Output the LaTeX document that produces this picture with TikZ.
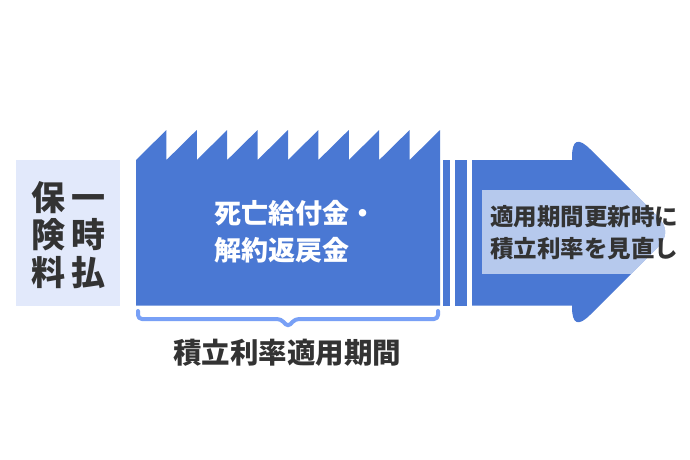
\documentclass[tikz,border=0pt]{standalone}
\usepackage{fontspec}
\setmainfont{Noto Sans CJK JP}
\definecolor{mainblue}{HTML}{4A78D3}
\definecolor{paleblue}{HTML}{E2E9FB}
\definecolor{bracecol}{HTML}{78A0F6}
\definecolor{darktext}{HTML}{333333}
\tikzset{
  txt/.style={inner sep=0pt, outer sep=0pt},
  lefttxt/.style={txt, anchor=base, text=darktext, font=\fontsize{34pt}{37.5pt}\selectfont\bfseries},
  maintxt/.style={txt, anchor=base west, text=white, font=\fontsize{27pt}{37pt}\selectfont\bfseries},
  overtxt/.style={txt, anchor=base west, text=darktext, font=\fontsize{23.5pt}{32pt}\selectfont\bfseries},
  bottxt/.style={txt, anchor=base, text=darktext, font=\fontsize{28.5pt}{32pt}\selectfont\bfseries},
}
\def\arrowpath{(472,160) -- (572,160) -- (572,157) .. controls (572,139.67) and (578.12,137.12) .. (590.38,149.38) -- (657.44,216.44) .. controls (667.81,226.81) and (667.81,237.19) .. (657.44,247.56) -- (590.38,314.62) .. controls (578.12,326.88) and (572,324.33) .. (572,307) -- (572,305.5) -- (472,305.5) -- cycle}
\begin{document}
\begin{tikzpicture}[x=1pt,y=-1pt]
\useasboundingbox (0,0) rectangle (690,460);
\fill[white] (0,0) rectangle (690,460);
% left box
\fill[paleblue] (16,160) rectangle (120,305.5);
\node[lefttxt] (l1) at (48.3,210.9) {保};
\node[lefttxt] (l2) at (48.3,247.9) {険};
\node[lefttxt] (l3) at (48.3,285.9) {料};
\node[lefttxt] (r1) at (88.3,210.9) {一};
\node[lefttxt] (r2) at (88.3,247.9) {時};
\node[lefttxt] (r3) at (88.3,285.9) {払};
% main saw-tooth box
\fill[mainblue] (136,305.5) -- (136,160)
  \foreach \i in {1,...,9} { -- ({136+30.4*\i},130) -- ({136+30.4*\i},160) }
  -- (440,130) -- (440,305.5) -- cycle;
\node[maintxt] (m1) at (214.8,223.3) {死亡給付金・};
\node[maintxt] (m2) at (214.8,260.3) {解約返戻金};
% stripes
\fill[mainblue] (443,160) rectangle (450,305.5);
\fill[mainblue] (455,160) rectangle (467,305.5);
% arrow
\fill[mainblue] \arrowpath;
\begin{scope}
  \clip \arrowpath;
  \fill[white, opacity=0.6] (482,190) rectangle (700,274);
\end{scope}
\node[overtxt] (o1) at (490,225.9) {適用期間更新時に};
\node[overtxt] (o2) at (490,257.9) {積立利率を見直し};
% brace
\coordinate (bl) at (138,311);
\coordinate (br) at (438,311);
\draw[bracecol, line width=4pt, line cap=round, line join=round, rounded corners=4pt]
  (bl) -- (138,319) -- (281,319) -- (288,327) -- (295,319) -- (438,319) -- (br);
\node[bottxt] (b1) at (287,363.3) {積立利率適用期間};
\end{tikzpicture}
\end{document}
